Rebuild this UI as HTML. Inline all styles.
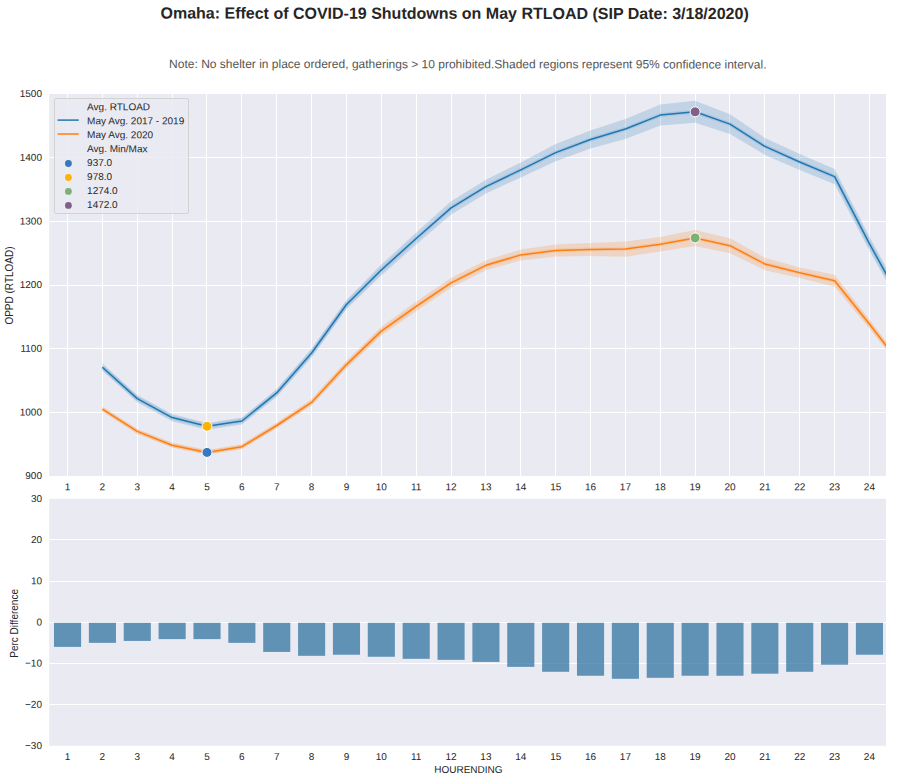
<!DOCTYPE html>
<html lang="en">
<head>
<meta charset="utf-8">
<title>Omaha: Effect of COVID-19 Shutdowns on May RTLOAD</title>
<style>
html,body{margin:0;padding:0;background:#fff;}
body{width:897px;height:782px;overflow:hidden;}
svg{display:block;}
text{font-family:"Liberation Sans", sans-serif;fill:#262626;}
.tk{font-size:10px;}
.grid line{stroke:#fff;stroke-width:1;}
</style>
</head>
<body>
<svg width="897" height="782" viewBox="0 0 897 782">
<rect x="0" y="0" width="897" height="782" fill="#ffffff"/>
<defs>
<clipPath id="c1"><rect x="49.2" y="94.0" width="836.8" height="382.0"/></clipPath>
<clipPath id="c2"><rect x="49.2" y="498.8" width="836.8" height="246.99999999999994"/></clipPath>
</defs>

<text transform="translate(454.6 18.8) rotate(0.05)" text-anchor="middle" font-size="16px" font-weight="bold">Omaha: Effect of COVID-19 Shutdowns on May RTLOAD (SIP Date: 3/18/2020)</text>
<text transform="translate(467.8 68.2) rotate(0.05)" text-anchor="middle" font-size="12px" style="fill:#555555">Note: No shelter in place ordered, gatherings &gt; 10 prohibited.Shaded regions represent 95% confidence interval.</text>
<rect x="49.2" y="94.0" width="836.8" height="382.0" fill="#eaeaf2"/>
<g class="grid" clip-path="url(#c1)">
<line x1="67.5" y1="94.0" x2="67.5" y2="476.0"/>
<line x1="102.5" y1="94.0" x2="102.5" y2="476.0"/>
<line x1="137.5" y1="94.0" x2="137.5" y2="476.0"/>
<line x1="172.5" y1="94.0" x2="172.5" y2="476.0"/>
<line x1="206.5" y1="94.0" x2="206.5" y2="476.0"/>
<line x1="241.5" y1="94.0" x2="241.5" y2="476.0"/>
<line x1="276.5" y1="94.0" x2="276.5" y2="476.0"/>
<line x1="311.5" y1="94.0" x2="311.5" y2="476.0"/>
<line x1="346.5" y1="94.0" x2="346.5" y2="476.0"/>
<line x1="381.5" y1="94.0" x2="381.5" y2="476.0"/>
<line x1="416.5" y1="94.0" x2="416.5" y2="476.0"/>
<line x1="451.5" y1="94.0" x2="451.5" y2="476.0"/>
<line x1="485.5" y1="94.0" x2="485.5" y2="476.0"/>
<line x1="520.5" y1="94.0" x2="520.5" y2="476.0"/>
<line x1="555.5" y1="94.0" x2="555.5" y2="476.0"/>
<line x1="590.5" y1="94.0" x2="590.5" y2="476.0"/>
<line x1="625.5" y1="94.0" x2="625.5" y2="476.0"/>
<line x1="660.5" y1="94.0" x2="660.5" y2="476.0"/>
<line x1="695.5" y1="94.0" x2="695.5" y2="476.0"/>
<line x1="729.5" y1="94.0" x2="729.5" y2="476.0"/>
<line x1="764.5" y1="94.0" x2="764.5" y2="476.0"/>
<line x1="799.5" y1="94.0" x2="799.5" y2="476.0"/>
<line x1="834.5" y1="94.0" x2="834.5" y2="476.0"/>
<line x1="869.5" y1="94.0" x2="869.5" y2="476.0"/>
<line x1="49.2" y1="412.5" x2="886.0" y2="412.5"/>
<line x1="49.2" y1="348.5" x2="886.0" y2="348.5"/>
<line x1="49.2" y1="285.5" x2="886.0" y2="285.5"/>
<line x1="49.2" y1="221.5" x2="886.0" y2="221.5"/>
<line x1="49.2" y1="157.5" x2="886.0" y2="157.5"/>
</g>
<g clip-path="url(#c1)">
<polygon points="102.4,363.6 137.3,395.0 172.1,414.0 207.0,422.9 241.9,417.6 276.7,389.1 311.6,348.6 346.5,299.9 381.3,264.6 416.2,232.5 451.1,201.3 485.9,179.8 520.8,162.4 555.7,143.9 590.5,130.5 625.4,119.0 660.3,104.6 695.1,100.8 730.0,114.3 764.9,137.9 799.7,154.0 834.6,168.9 869.4,236.6 904.3,300.3 904.3,313.3 869.4,250.6 834.6,184.3 799.7,170.0 764.9,154.9 730.0,133.9 695.1,122.8 660.3,125.6 625.4,139.0 590.5,148.5 555.7,161.3 520.8,177.4 485.9,193.4 451.1,214.5 416.2,244.5 381.3,275.4 346.5,309.1 311.6,357.4 276.7,396.7 241.9,424.4 207.0,429.7 172.1,421.2 137.3,402.2 102.4,370.8" fill="#1f77b4" fill-opacity="0.2"/>
<polygon points="102.4,406.6 137.3,428.9 172.1,442.8 207.0,450.0 241.9,444.3 276.7,422.7 311.6,399.2 346.5,360.8 381.3,326.7 416.2,301.6 451.1,277.8 485.9,260.3 520.8,249.4 555.7,244.6 590.5,243.1 625.4,241.5 660.3,237.0 695.1,229.9 730.0,238.2 764.9,257.7 799.7,267.5 834.6,274.8 869.4,319.6 904.3,365.4 904.3,373.0 869.4,328.4 834.6,286.8 799.7,277.9 764.9,270.3 730.0,253.2 695.1,245.9 660.3,251.6 625.4,256.7 590.5,256.1 555.7,256.6 520.8,260.4 485.9,270.3 451.1,287.8 416.2,311.2 381.3,335.5 346.5,368.4 311.6,405.6 276.7,428.3 241.9,449.1 207.0,454.8 172.1,447.6 137.3,433.9 102.4,411.6" fill="#ff7f0e" fill-opacity="0.2"/>
<polyline points="102.4,367.2 137.3,398.6 172.1,417.6 207.0,426.3 241.9,421.0 276.7,392.9 311.6,353.0 346.5,304.5 381.3,270.0 416.2,238.5 451.1,207.9 485.9,186.6 520.8,169.9 555.7,152.6 590.5,139.5 625.4,129.0 660.3,115.1 695.1,111.8 730.0,124.1 764.9,146.4 799.7,162.0 834.6,176.6 869.4,243.6 904.3,306.8" fill="none" stroke="#1f77b4" stroke-opacity="0.13" stroke-width="4" stroke-linejoin="round"/>
<polyline points="102.4,409.1 137.3,431.4 172.1,445.2 207.0,452.4 241.9,446.7 276.7,425.5 311.6,402.4 346.5,364.6 381.3,331.1 416.2,306.4 451.1,282.8 485.9,265.3 520.8,254.9 555.7,250.6 590.5,249.6 625.4,249.1 660.3,244.3 695.1,237.9 730.0,245.7 764.9,264.0 799.7,272.7 834.6,280.8 869.4,324.0 904.3,369.2" fill="none" stroke="#ff7f0e" stroke-opacity="0.13" stroke-width="4" stroke-linejoin="round"/>
<polyline points="102.4,367.2 137.3,398.6 172.1,417.6 207.0,426.3 241.9,421.0 276.7,392.9 311.6,353.0 346.5,304.5 381.3,270.0 416.2,238.5 451.1,207.9 485.9,186.6 520.8,169.9 555.7,152.6 590.5,139.5 625.4,129.0 660.3,115.1 695.1,111.8 730.0,124.1 764.9,146.4 799.7,162.0 834.6,176.6 869.4,243.6 904.3,306.8" fill="none" stroke="#1f77b4" stroke-width="1.5" stroke-linejoin="round"/>
<polyline points="102.4,409.1 137.3,431.4 172.1,445.2 207.0,452.4 241.9,446.7 276.7,425.5 311.6,402.4 346.5,364.6 381.3,331.1 416.2,306.4 451.1,282.8 485.9,265.3 520.8,254.9 555.7,250.6 590.5,249.6 625.4,249.1 660.3,244.3 695.1,237.9 730.0,245.7 764.9,264.0 799.7,272.7 834.6,280.8 869.4,324.0 904.3,369.2" fill="none" stroke="#ff7f0e" stroke-width="1.5" stroke-linejoin="round"/>
<circle cx="207.0" cy="452.4" r="5" fill="#3778bf" stroke="#fff" stroke-width="1"/>
<circle cx="207.0" cy="426.3" r="5" fill="#feb308" stroke="#fff" stroke-width="1"/>
<circle cx="695.1" cy="237.9" r="5" fill="#7bb274" stroke="#fff" stroke-width="1"/>
<circle cx="695.1" cy="111.8" r="5" fill="#825f87" stroke="#fff" stroke-width="1"/>
</g>
<text class="tk" transform="translate(42.0 479.1) rotate(0.05)" text-anchor="end">900</text>
<text class="tk" transform="translate(42.0 415.4) rotate(0.05)" text-anchor="end">1000</text>
<text class="tk" transform="translate(42.0 351.8) rotate(0.05)" text-anchor="end">1100</text>
<text class="tk" transform="translate(42.0 288.1) rotate(0.05)" text-anchor="end">1200</text>
<text class="tk" transform="translate(42.0 224.4) rotate(0.05)" text-anchor="end">1300</text>
<text class="tk" transform="translate(42.0 160.8) rotate(0.05)" text-anchor="end">1400</text>
<text class="tk" transform="translate(42.0 97.1) rotate(0.05)" text-anchor="end">1500</text>
<text class="tk" transform="translate(67.5 490.2) rotate(0.05)" text-anchor="middle">1</text>
<text class="tk" transform="translate(102.4 490.2) rotate(0.05)" text-anchor="middle">2</text>
<text class="tk" transform="translate(137.3 490.2) rotate(0.05)" text-anchor="middle">3</text>
<text class="tk" transform="translate(172.1 490.2) rotate(0.05)" text-anchor="middle">4</text>
<text class="tk" transform="translate(207.0 490.2) rotate(0.05)" text-anchor="middle">5</text>
<text class="tk" transform="translate(241.9 490.2) rotate(0.05)" text-anchor="middle">6</text>
<text class="tk" transform="translate(276.7 490.2) rotate(0.05)" text-anchor="middle">7</text>
<text class="tk" transform="translate(311.6 490.2) rotate(0.05)" text-anchor="middle">8</text>
<text class="tk" transform="translate(346.5 490.2) rotate(0.05)" text-anchor="middle">9</text>
<text class="tk" transform="translate(381.3 490.2) rotate(0.05)" text-anchor="middle">10</text>
<text class="tk" transform="translate(416.2 490.2) rotate(0.05)" text-anchor="middle">11</text>
<text class="tk" transform="translate(451.1 490.2) rotate(0.05)" text-anchor="middle">12</text>
<text class="tk" transform="translate(485.9 490.2) rotate(0.05)" text-anchor="middle">13</text>
<text class="tk" transform="translate(520.8 490.2) rotate(0.05)" text-anchor="middle">14</text>
<text class="tk" transform="translate(555.7 490.2) rotate(0.05)" text-anchor="middle">15</text>
<text class="tk" transform="translate(590.5 490.2) rotate(0.05)" text-anchor="middle">16</text>
<text class="tk" transform="translate(625.4 490.2) rotate(0.05)" text-anchor="middle">17</text>
<text class="tk" transform="translate(660.3 490.2) rotate(0.05)" text-anchor="middle">18</text>
<text class="tk" transform="translate(695.1 490.2) rotate(0.05)" text-anchor="middle">19</text>
<text class="tk" transform="translate(730.0 490.2) rotate(0.05)" text-anchor="middle">20</text>
<text class="tk" transform="translate(764.9 490.2) rotate(0.05)" text-anchor="middle">21</text>
<text class="tk" transform="translate(799.7 490.2) rotate(0.05)" text-anchor="middle">22</text>
<text class="tk" transform="translate(834.6 490.2) rotate(0.05)" text-anchor="middle">23</text>
<text class="tk" transform="translate(869.4 490.2) rotate(0.05)" text-anchor="middle">24</text>
<text class="tk" transform="translate(13.0,285.5) rotate(-90)" text-anchor="middle">OPPD (RTLOAD)</text>
<rect x="54.5" y="98.5" width="134" height="115" rx="2" ry="2" fill="#eaeaf2" fill-opacity="0.85" stroke="#cccccc" stroke-opacity="0.8" stroke-width="1"/>
<text class="tk" transform="translate(87.1 110.2) rotate(0.05)">Avg. RTLOAD</text>
<text class="tk" transform="translate(87.1 124.2) rotate(0.05)">May Avg. 2017 - 2019</text>
<text class="tk" transform="translate(87.1 138.1) rotate(0.05)">May Avg. 2020</text>
<text class="tk" transform="translate(87.1 152.1) rotate(0.05)">Avg. Min/Max</text>
<text class="tk" transform="translate(87.1 166.1) rotate(0.05)">937.0</text>
<text class="tk" transform="translate(87.1 180.1) rotate(0.05)">978.0</text>
<text class="tk" transform="translate(87.1 194.0) rotate(0.05)">1274.0</text>
<text class="tk" transform="translate(87.1 208.0) rotate(0.05)">1472.0</text>
<line x1="57.6" y1="120.1" x2="78.8" y2="120.1" stroke="#1f77b4" stroke-width="1.5"/>
<line x1="57.6" y1="134.0" x2="78.8" y2="134.0" stroke="#ff7f0e" stroke-width="1.5"/>
<circle cx="68.4" cy="163.5" r="3.4" fill="#3778bf"/>
<circle cx="68.4" cy="177.5" r="3.4" fill="#feb308"/>
<circle cx="68.4" cy="191.4" r="3.4" fill="#7bb274"/>
<circle cx="68.4" cy="205.4" r="3.4" fill="#825f87"/>
<rect x="49.2" y="498.8" width="836.8" height="246.99999999999994" fill="#eaeaf2"/>
<g class="grid" clip-path="url(#c2)">
<line x1="49.2" y1="704.5" x2="886.0" y2="704.5"/>
<line x1="49.2" y1="663.5" x2="886.0" y2="663.5"/>
<line x1="49.2" y1="622.5" x2="886.0" y2="622.5"/>
<line x1="49.2" y1="581.5" x2="886.0" y2="581.5"/>
<line x1="49.2" y1="539.5" x2="886.0" y2="539.5"/>
</g>
<g clip-path="url(#c2)" fill="#3274a1" fill-opacity="0.75">
<rect x="54.00" y="622.80" width="27.10" height="24.09"/>
<rect x="88.86" y="622.80" width="27.10" height="20.06"/>
<rect x="123.73" y="622.80" width="27.10" height="18.12"/>
<rect x="158.59" y="622.80" width="27.10" height="16.31"/>
<rect x="193.46" y="622.80" width="27.10" height="16.31"/>
<rect x="228.32" y="622.80" width="27.10" height="20.06"/>
<rect x="263.19" y="622.80" width="27.10" height="29.12"/>
<rect x="298.06" y="622.80" width="27.10" height="33.03"/>
<rect x="332.92" y="622.80" width="27.10" height="31.92"/>
<rect x="367.79" y="622.80" width="27.10" height="33.97"/>
<rect x="402.65" y="622.80" width="27.10" height="36.03"/>
<rect x="437.52" y="622.80" width="27.10" height="37.06"/>
<rect x="472.38" y="622.80" width="27.10" height="39.12"/>
<rect x="507.24" y="622.80" width="27.10" height="44.06"/>
<rect x="542.11" y="622.80" width="27.10" height="49.00"/>
<rect x="576.98" y="622.80" width="27.10" height="52.95"/>
<rect x="611.84" y="622.80" width="27.10" height="56.00"/>
<rect x="646.71" y="622.80" width="27.10" height="55.01"/>
<rect x="681.57" y="622.80" width="27.10" height="52.95"/>
<rect x="716.44" y="622.80" width="27.10" height="52.95"/>
<rect x="751.30" y="622.80" width="27.10" height="50.89"/>
<rect x="786.17" y="622.80" width="27.10" height="49.00"/>
<rect x="821.03" y="622.80" width="27.10" height="41.92"/>
<rect x="855.90" y="622.80" width="27.10" height="31.92"/>
</g>
<text class="tk" transform="translate(42.0 748.9) rotate(0.05)" text-anchor="end">−30</text>
<text class="tk" transform="translate(42.0 707.7) rotate(0.05)" text-anchor="end">−20</text>
<text class="tk" transform="translate(42.0 666.6) rotate(0.05)" text-anchor="end">−10</text>
<text class="tk" transform="translate(42.0 625.4) rotate(0.05)" text-anchor="end">0</text>
<text class="tk" transform="translate(42.0 584.2) rotate(0.05)" text-anchor="end">10</text>
<text class="tk" transform="translate(42.0 543.1) rotate(0.05)" text-anchor="end">20</text>
<text class="tk" transform="translate(42.0 501.9) rotate(0.05)" text-anchor="end">30</text>
<text class="tk" transform="translate(67.5 760.1) rotate(0.05)" text-anchor="middle">1</text>
<text class="tk" transform="translate(102.4 760.1) rotate(0.05)" text-anchor="middle">2</text>
<text class="tk" transform="translate(137.3 760.1) rotate(0.05)" text-anchor="middle">3</text>
<text class="tk" transform="translate(172.1 760.1) rotate(0.05)" text-anchor="middle">4</text>
<text class="tk" transform="translate(207.0 760.1) rotate(0.05)" text-anchor="middle">5</text>
<text class="tk" transform="translate(241.9 760.1) rotate(0.05)" text-anchor="middle">6</text>
<text class="tk" transform="translate(276.7 760.1) rotate(0.05)" text-anchor="middle">7</text>
<text class="tk" transform="translate(311.6 760.1) rotate(0.05)" text-anchor="middle">8</text>
<text class="tk" transform="translate(346.5 760.1) rotate(0.05)" text-anchor="middle">9</text>
<text class="tk" transform="translate(381.3 760.1) rotate(0.05)" text-anchor="middle">10</text>
<text class="tk" transform="translate(416.2 760.1) rotate(0.05)" text-anchor="middle">11</text>
<text class="tk" transform="translate(451.1 760.1) rotate(0.05)" text-anchor="middle">12</text>
<text class="tk" transform="translate(485.9 760.1) rotate(0.05)" text-anchor="middle">13</text>
<text class="tk" transform="translate(520.8 760.1) rotate(0.05)" text-anchor="middle">14</text>
<text class="tk" transform="translate(555.7 760.1) rotate(0.05)" text-anchor="middle">15</text>
<text class="tk" transform="translate(590.5 760.1) rotate(0.05)" text-anchor="middle">16</text>
<text class="tk" transform="translate(625.4 760.1) rotate(0.05)" text-anchor="middle">17</text>
<text class="tk" transform="translate(660.3 760.1) rotate(0.05)" text-anchor="middle">18</text>
<text class="tk" transform="translate(695.1 760.1) rotate(0.05)" text-anchor="middle">19</text>
<text class="tk" transform="translate(730.0 760.1) rotate(0.05)" text-anchor="middle">20</text>
<text class="tk" transform="translate(764.9 760.1) rotate(0.05)" text-anchor="middle">21</text>
<text class="tk" transform="translate(799.7 760.1) rotate(0.05)" text-anchor="middle">22</text>
<text class="tk" transform="translate(834.6 760.1) rotate(0.05)" text-anchor="middle">23</text>
<text class="tk" transform="translate(869.4 760.1) rotate(0.05)" text-anchor="middle">24</text>
<text class="tk" transform="translate(18.0,623.4) rotate(-90)" text-anchor="middle">Perc Difference</text>
<text class="tk" transform="translate(468.4 772.9) rotate(0.05)" text-anchor="middle">HOURENDING</text>
</svg>
</body>
</html>
